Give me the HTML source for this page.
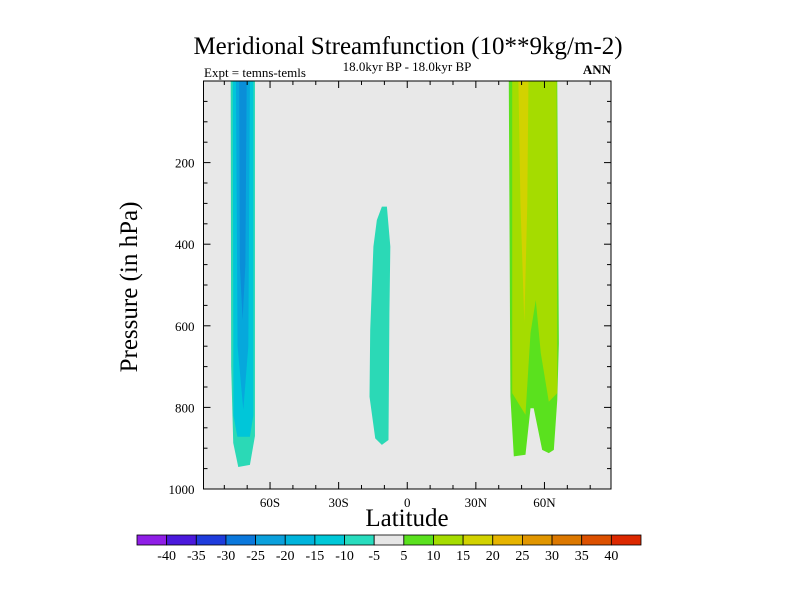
<!DOCTYPE html>
<html><head><meta charset="utf-8"><style>
body{margin:0;background:#fff;}
svg{display:block;font-family:"Liberation Serif",serif;}
</style></head><body>
<svg id="chart" width="800" height="600" viewBox="0 0 800 600">
<text x="408" y="54" font-size="25" text-anchor="middle">Meridional Streamfunction (10**9kg/m-2)</text>
<text x="407" y="71" font-size="13" text-anchor="middle">18.0kyr BP - 18.0kyr BP</text>
<text x="204" y="77" font-size="13">Expt = temns-temls</text>
<text x="611" y="74" font-size="13" text-anchor="end" font-weight="bold">ANN</text>
<text transform="translate(137,287) rotate(-90)" font-size="25" text-anchor="middle">Pressure (in hPa)</text>
<text x="407" y="526" font-size="25" text-anchor="middle">Latitude</text>
<g id="plot"></g>
<g id="cbar"></g>
</svg>
<script>
const latMin=-89.1, latMax=89.1, pTop=0, pBot=1000;
const L=203.5, R=611, T=81, B=489;
const regionLevels=[-5,-10,-15,-20,5,10,15];
const regionColors=['#2bd9b6','#00c6d9','#06a8dc','#0a8ed8','#5ae11e','#a5dc00','#d2d200'];
const shTeal=[[-77.2,0],[-66.6,0],[-66.6,870],[-68.8,941],[-73.9,946],[-76.1,887],[-77.0,700]];
const shCyan=[[-76.3,0],[-67.3,0],[-67.3,820],[-68.8,872],[-74.3,872],[-76.0,820]];
const shBlue20=[[-74.9,0],[-68.8,0],[-69.5,650],[-71.7,806],[-74.2,650]];
const shBlue25=[[-73.5,0],[-70.2,0],[-70.8,450],[-72.0,586],[-73.2,450]];
const tropTeal=[[-11.1,308],[-8.9,308],[-7.4,406],[-7.8,570],[-8.2,880],[-11.1,892],[-14.0,876],[-16.5,774],[-16.2,610],[-14.8,406],[-13.3,341]];
const nhGreen=[[44.4,0],[65.6,0],[66.3,643],[65.6,782],[64.1,904],[61.9,912],[59.0,904],[55.3,802],[53.9,802],[51.7,916],[46.6,920],[45.1,773]];
const nhYellowGreen=[[45.9,0],[65.3,0],[65.6,765],[61.9,786],[58.4,667],[56.2,537],[53.9,618],[51.7,818],[45.9,765]];
const nhYellow=[[48.6,0],[53.0,0],[52.5,300],[51.2,592],[49.5,300]];
const regions=[shTeal,shCyan,shBlue20,shBlue25,tropTeal,nhGreen,nhYellowGreen,nhYellow];
const regionColorIdx=[0,1,2,3,0,4,5,6];
const yTicks=[200,400,600,800,1000];
const xTicks=[-60,-30,0,30,60];
const xTickLabels=['60S','30S','0','30N','60N'];
const cbLevels=[-40,-35,-30,-25,-20,-15,-10,-5,5,10,15,20,25,30,35,40];
const cbColors=['#8f1ee6','#4b19dc','#1e3cdc','#0a78dc','#0aa0dc','#00b4dc','#00c8d8','#28dcbe','#e6e6e6','#5ae11e','#a5dc00','#d2d200','#e6b400','#e19600','#dc7800','#dc5000','#dc2800'];

const NS='http://www.w3.org/2000/svg';
const xs=lat=>L+(lat-latMin)/(latMax-latMin)*(R-L);
const ys=p=>T+(p-pTop)/(pBot-pTop)*(B-T);
function mk(tag,attrs,parent){const e=document.createElementNS(NS,tag);for(const k in attrs)e.setAttribute(k,attrs[k]);parent.appendChild(e);return e;}
const plot=document.getElementById('plot');
const bg=mk('rect',{x:L,y:T,width:R-L,height:B-T,fill:'#e8e8e8'},plot);


regions.forEach((poly,i)=>{
  const e=mk('polygon',{points:poly.map(q=>xs(q[0])+','+ys(q[1])).join(' '),fill:regionColors[regionColorIdx[i]]},plot);
  
  
});
const frame=mk('rect',{x:L,y:T,width:R-L,height:B-T,fill:'none',stroke:'#000','stroke-width':1},plot);


for(let p=50;p<1000;p+=50){
  const len=(p%200===0)?7:4;
  mk('line',{x1:L,x2:L+len,y1:ys(p),y2:ys(p),stroke:'#000'},plot);
  mk('line',{x1:R,x2:R-len,y1:ys(p),y2:ys(p),stroke:'#000'},plot);
}
for(let la=-80;la<=80;la+=10){
  const len=(la%30===0)?7:4;
  mk('line',{x1:xs(la),x2:xs(la),y1:B,y2:B-len,stroke:'#000'},plot);
  mk('line',{x1:xs(la),x2:xs(la),y1:T,y2:T+len,stroke:'#000'},plot);
}
yTicks.forEach(v=>{
  const t=mk('text',{x:L-9,y:ys(v)+5,'font-size':13,'text-anchor':'end'},plot);
  t.textContent=v;
  
  
});
xTicks.forEach((v,i)=>{
  const t=mk('text',{x:xs(v),y:507,'font-size':13,'text-anchor':'middle'},plot);
  t.textContent=xTickLabels[i];
  
  
});
const cb=document.getElementById('cbar');
const cbL=137,cbR=641,cbT=535,cbH=10,bw=(cbR-cbL)/cbColors.length;
cbColors.forEach((c,i)=>{
  const r=mk('rect',{x:cbL+i*bw,y:cbT,width:bw,height:cbH,fill:c,stroke:'#000','stroke-width':0.8},cb);
  
  
});
cbLevels.forEach((v,i)=>{
  const t=mk('text',{x:cbL+(i+1)*bw,y:560,'font-size':14,'text-anchor':'middle'},cb);
  t.textContent=v;
  
  
});
</script>
</body></html>
